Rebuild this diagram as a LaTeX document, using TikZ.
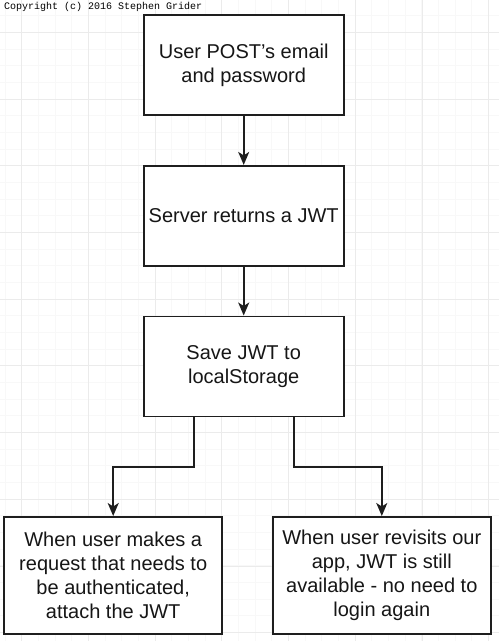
\documentclass[tikz,border=0pt]{standalone}
\usepackage{fontspec}
\setmainfont{Liberation Sans}
\newfontfamily\monofont{Liberation Mono}
\usetikzlibrary{arrows.meta}
\definecolor{ink}{HTML}{161616}
\definecolor{edge}{HTML}{1E1E1E}
\definecolor{gridmajor}{HTML}{EBEBEB}
\definecolor{gridminor}{HTML}{F8F8F8}
\tikzset{
  stepbox/.style={draw=edge, line width=1.6pt, fill=white, text=ink,
    minimum width=200pt, minimum height=100pt, align=center,
    font=\fontsize{20}{24}\selectfont, inner sep=0pt},
  widebox/.style={stepbox, minimum width=218pt, minimum height=117pt},
  flow/.style={draw=edge, line width=1.6pt,
    -{Stealth[length=13pt,width=11pt,inset=3.5pt]}},
  minorgrid/.style={draw=gridminor, line width=0.6pt},
  majorgrid/.style={draw=gridmajor, line width=0.8pt},
}
\begin{document}
\begin{tikzpicture}[x=1pt,y=-1pt]
\useasboundingbox (0,0) rectangle (499,641);
\fill[white] (0,0) rectangle (499,641);
% background grid
\foreach \i in {0,...,30} {
  \draw[minorgrid] ({5+16.67*\i},0) -- ({5+16.67*\i},641);
}
\foreach \i in {0,...,38} {
  \draw[minorgrid] (0,{-1+16.67*\i}) -- (499,{-1+16.67*\i});
}
\foreach \i in {0,...,7} {
  \draw[majorgrid] ({21.7+66.7*\i},0) -- ({21.7+66.7*\i},641);
}
\foreach \i in {0,...,9} {
  \draw[majorgrid] (0,{32.3+66.7*\i}) -- (499,{32.3+66.7*\i});
}
% copyright line
\node[anchor=base west, inner sep=0pt, text=black,
  font=\monofont\fontsize{10}{12}\selectfont] (copy) at (4,9.5)
  {Copyright (c) 2016 Stephen Grider};
% steps
\node[stepbox] (post) at (243.7,65) {User POST's email\\and password};
\node[stepbox] (server) at (243.7,215.7) {Server returns a JWT};
\node[stepbox] (save) at (243.7,366.3) {Save JWT to\\localStorage};
\node[widebox] (attach) at (113.2,575.3)
  {When user makes a\\request that needs to\\be authenticated,\\attach the JWT};
\node[widebox] (revisit) at (381.8,575.3)
  {When user revisits our\\app, JWT is still\\available - no need to\\login again};
% connectors
\draw[flow] (post) -- (server);
\draw[flow] (server) -- (save);
\draw[flow] ([xshift=-50pt]save.south) -- ++(0,-50pt) -| (attach.north);
\draw[flow] ([xshift=50pt]save.south) -- ++(0,-50pt) -| (revisit.north);
\end{tikzpicture}
\end{document}
